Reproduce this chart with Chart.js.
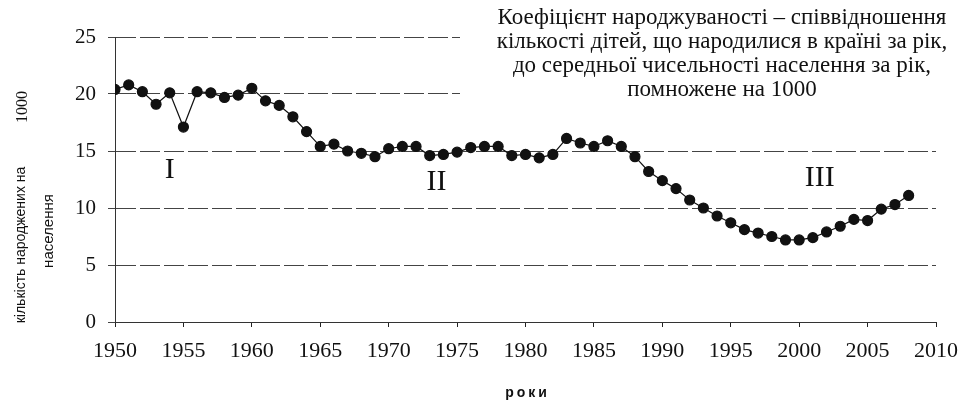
<!DOCTYPE html>
<html>
<head>
<meta charset="utf-8">
<script src="https://cdn.jsdelivr.net/npm/chart.js@4.4.1/dist/chart.umd.min.js"></script>
<style>
  html, body { margin: 0; padding: 0; background: #fff; }
  #wrap { width: 969px; height: 403px; position: relative; }
</style>
</head>
<body>
<div id="wrap"><canvas id="c"></canvas></div>
<script>
// Crude birth rate, births per 1000 population, by year
const years = [
  1950, 1951, 1952, 1953, 1954, 1955, 1956, 1957, 1958, 1959,
  1960, 1961, 1962, 1963, 1964, 1965, 1966, 1967, 1968, 1969,
  1970, 1971, 1972, 1973, 1974, 1975, 1976, 1977, 1978, 1979,
  1980, 1981, 1982, 1983, 1984, 1985, 1986, 1987, 1988, 1989,
  1990, 1991, 1992, 1993, 1994, 1995, 1996, 1997, 1998, 1999,
  2000, 2001, 2002, 2003, 2004, 2005, 2006, 2007, 2008
];
const birthRate = [
  20.4, 20.8, 20.2, 19.1, 20.1, 17.1, 20.2, 20.1, 19.7, 19.9,
  20.5, 19.4, 19.0, 18.0, 16.7, 15.4, 15.6, 15.0, 14.8, 14.5,
  15.2, 15.4, 15.4, 14.6, 14.7, 14.9, 15.3, 15.4, 15.4, 14.6,
  14.7, 14.4, 14.7, 16.1, 15.7, 15.4, 15.9, 15.4, 14.5, 13.2,
  12.4, 11.7, 10.7, 10.0, 9.3, 8.7, 8.1, 7.8, 7.5, 7.2,
  7.2, 7.4, 7.9, 8.4, 9.0, 8.9, 9.9, 10.3, 11.1
];
const xTickValues = [1950, 1955, 1960, 1965, 1970, 1975, 1980, 1985, 1990, 1995, 2000, 2005, 2010];
const yTickValues = [0, 5, 10, 15, 20, 25];

// Period markers (label, year, value)
const periodNames = ['I', 'II', 'III'];
const periodYears = [1954.0, 1973.5, 2001.5];
const periodValues = [13.3, 12.3, 12.6];

const noteLines = [
  'Коефіцієнт народжуваності – співвідношення',
  'кількості дітей, що народилися в країні за рік,',
  'до середньої чисельності населення за рік,',
  'помножене на 1000'
];
const xTitle = 'роки';
const yTitleMain = 'кількість народжених на';
const yTitleSecond = 'населення';
const yTitleNumber = '1000';

const SERIF = "'Liberation Serif', 'Times New Roman', serif";
const SANS = "'Liberation Sans', Arial, sans-serif";
const DASH = [16, 6];

const textPlugin = {
  id: 'texts',
  afterDraw(chart) {
    const ctx = chart.ctx;
    const xs = chart.scales.x, ys = chart.scales.y;
    ctx.save();
    // note box on the upper right, over the grid
    ctx.fillStyle = '#fff';
    ctx.fillRect(460, 0, 509, 101);
    ctx.fillStyle = '#111';
    ctx.textAlign = 'center';
    ctx.textBaseline = 'middle';
    ctx.font = '23px ' + SERIF;
    const noteY = [18, 42, 66, 90];
    noteLines.forEach((t, i) => ctx.fillText(t, 722, noteY[i]));

    // period numerals
    ctx.font = '30px ' + SERIF;
    periodNames.forEach((t, i) => {
      ctx.fillText(t, xs.getPixelForValue(periodYears[i]), ys.getPixelForValue(periodValues[i]));
    });

    // x-axis title
    ctx.font = 'bold 14px ' + SANS;
    ctx.letterSpacing = '3px';
    ctx.fillText(xTitle, (chart.chartArea.left + chart.chartArea.right) / 2 + 2, 393);
    ctx.letterSpacing = '0px';

    // y-axis title pieces
    ctx.save();
    ctx.translate(21, 245);
    ctx.rotate(-Math.PI / 2);
    ctx.font = '14px ' + SANS;
    ctx.fillText(yTitleMain, 0, 0);
    ctx.restore();

    ctx.save();
    ctx.translate(49, 231);
    ctx.rotate(-Math.PI / 2);
    ctx.font = '15px ' + SANS;
    ctx.fillText(yTitleSecond, 0, 0);
    ctx.restore();

    ctx.save();
    ctx.translate(23, 107);
    ctx.rotate(-Math.PI / 2);
    ctx.font = '16px ' + SERIF;
    ctx.fillText(yTitleNumber, 0, 0);
    ctx.restore();

    ctx.restore();
  }
};

new Chart(document.getElementById('c'), {
  type: 'line',
  data: {
    datasets: [{
      data: years.map((y, i) => ({ x: y, y: birthRate[i] })),
      borderColor: '#111',
      borderWidth: 1.2,
      backgroundColor: '#111',
      pointBackgroundColor: '#111',
      pointBorderColor: '#111',
      pointRadius: 5,
      pointHoverRadius: 5,
      tension: 0
    }]
  },
  options: {
    responsive: true,
    maintainAspectRatio: false,
    animation: false,
    events: [],
    layout: { padding: { left: 0, right: 31, top: 37, bottom: 0 } },
    plugins: {
      legend: { display: false },
      title: { display: false },
      tooltip: { enabled: false }
    },
    scales: {
      x: {
        type: 'linear',
        min: 1950,
        max: 2010,
        afterBuildTicks: s => { s.ticks = xTickValues.map(v => ({ value: v })); },
        afterFit: s => { s.height = 81; },
        grid: {
          drawOnChartArea: false,
          drawTicks: true,
          tickLength: 5,
          color: '#222',
          lineWidth: 1
        },
        border: { display: true, color: '#333', width: 1, dash: DASH },
        ticks: {
          color: '#111',
          font: { family: SERIF, size: 22 },
          padding: 11,
          maxRotation: 0,
          autoSkip: false,
          callback: v => String(v)
        }
      },
      y: {
        min: 0,
        max: 25,
        afterBuildTicks: s => { s.ticks = yTickValues.map(v => ({ value: v })); },
        afterFit: s => { s.width = 115; },
        grid: {
          color: '#444',
          lineWidth: 1,
          tickLength: 7,
          borderDash: DASH
        },
        border: { display: true, color: '#333', width: 1, dash: [20, 4] },
        ticks: {
          color: '#111',
          font: { family: SERIF, size: 21 },
          padding: 12,
          callback: v => String(v)
        }
      }
    }
  },
  plugins: [textPlugin]
});
</script>
</body>
</html>
